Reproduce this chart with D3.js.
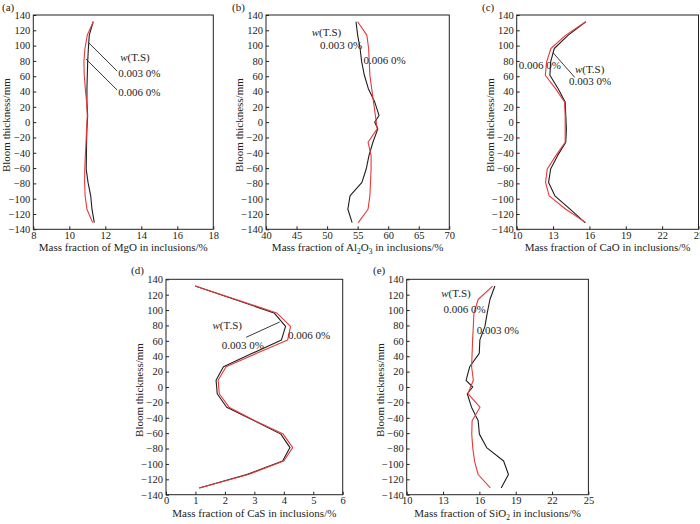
<!DOCTYPE html>
<html>
<head>
<meta charset="utf-8">
<script src="https://cdn.jsdelivr.net/npm/d3@7"></script>
<style>
  body { margin: 0; background: #fff; }
  text { font-family: "Liberation Serif", "Times New Roman", serif; fill: #222; }
</style>
</head>
<body>
<div id="d3-container"></div>
<script>
const width = 700,
  height = 524;

/* DATA */
// sampling positions across the bloom (mm)
const thickness = [131.25, 113.75, 96.25, 78.75, 61.25, 43.75, 26.25, 8.75,
  -8.75, -26.25, -43.75, -61.25, -78.75, -96.25, -113.75, -131.25];
// same positions with an extra sample at the centre line
const thicknessMid = [131.25, 113.75, 96.25, 78.75, 61.25, 43.75, 26.25, 8.75, 0,
  -8.75, -26.25, -43.75, -61.25, -78.75, -96.25, -113.75, -131.25];

const yTicks = [-140, -120, -100, -80, -60, -40, -20, 0, 20, 40, 60, 80, 100, 120, 140];

// MgO (%)
const mgo003 = [11.33, 11.11, 11.06, 11.02, 11.0, 10.98, 10.98, 11.02, 10.98, 10.96, 10.95, 10.94, 11.04, 11.19, 11.26, 11.39];
const mgo006 = [11.33, 11.0, 10.87, 10.81, 10.83, 10.89, 10.96, 11.0, 10.96, 10.93, 10.89, 10.86, 10.85, 10.88, 10.98, 11.3];
const mgoTicks = [8, 10, 12, 14, 16, 18];

// Al2O3 (%)
const al003 = [54.73, 55.0, 55.4, 55.66, 56.1, 56.75, 57.8, 58.5, 57.8, 58.3, 57.5, 56.85, 56.4, 55.7, 53.75, 53.4, 54.1];
const al006 = [55.0, 56.5, 56.8, 56.9, 57.0, 57.3, 57.6, 57.9, 58.2, 56.7, 57.2, 57.2, 57.1, 57.0, 56.7, 55.1];
const alTicks = [40, 45, 50, 55, 60, 65, 70];

// CaO (%)
const cao003 = [15.7, 14.25, 13.1, 12.8, 12.74, 13.42, 14.0, 14.05, 14.1, 14.05, 13.37, 12.8, 12.63, 13.15, 14.4, 15.64];
const cao006 = [15.7, 14.05, 12.82, 12.47, 12.36, 13.2, 13.95, 14.0, 14.0, 14.0, 13.23, 12.52, 12.38, 12.68, 14.05, 15.7];
const caoTicks = [10, 13, 16, 19, 22, 25];

// CaS (%)
const cas003 = [0.99, 2.34, 3.67, 4.06, 3.92, 2.93, 1.95, 1.7, 1.74, 2.06, 3.0, 3.9, 4.21, 3.96, 2.74, 1.13];
const cas006 = [0.99, 2.38, 3.76, 4.23, 4.13, 3.08, 2.04, 1.77, 1.81, 2.14, 3.02, 3.98, 4.3, 4.0, 2.8, 1.13];
const casTicks = [0, 1, 2, 3, 4, 5, 6];

// SiO2 (%)
const sio003 = [17.28, 16.87, 16.65, 16.46, 16.04, 15.99, 15.2, 14.9, 15.45, 15.0, 15.35, 15.9, 16.0, 16.6, 18.0, 18.4, 17.8];
const sio006 = [17.09, 15.9, 15.55, 15.5, 15.44, 15.4, 15.36, 15.5, 15.05, 16.05, 15.4, 15.37, 15.45, 15.6, 15.9, 16.9];
const sioTicks = [10, 13, 16, 19, 22, 25];

const BLACK = "#1e1e1e",
  RED = "#e8383a";

/* PANEL LAYOUT */
const panels = [
  {
    tag: "(a)", tagPos: [2, 11],
    box: { left: 33.3, right: 213.3, top: 15, bottom: 229.3 },
    xDomain: [8, 18], xTicks: mgoTicks,
    title: [["Mass fraction of MgO in inclusions/%"]],
    series: [{ x: mgo003, y: thickness, color: BLACK }, { x: mgo006, y: thickness, color: RED }],
    leaders: [[11.09, 103.4, 12.66, 66.7], [10.93, 82.4, 12.66, 41.9]],
    notes: [
      { w: true, x: 13.65, y: 85, anchor: "middle" },
      { text: "0.003 0%", x: 12.72, y: 64, anchor: "start" },
      { text: "0.006 0%", x: 12.72, y: 39, anchor: "start" }
    ]
  },
  {
    tag: "(b)", tagPos: [232, 11],
    box: { left: 266, right: 449.3, top: 15, bottom: 229.3 },
    xDomain: [40, 70], xTicks: alTicks,
    title: [["Mass fraction of Al"], ["2", true], ["O"], ["3", true], [" in inclusions/%"]],
    series: [{ x: al003, y: thicknessMid, color: BLACK }, { x: al006, y: thickness, color: RED }],
    leaders: [],
    notes: [
      { w: true, x: 49.9, y: 118.2, anchor: "middle" },
      { text: "0.003 0%", x: 52.3, y: 100.7, anchor: "middle" },
      { text: "0.006 0%", x: 59.4, y: 81.1, anchor: "middle" }
    ]
  },
  {
    tag: "(c)", tagPos: [482, 11],
    box: { left: 516.7, right: 698.5, top: 15, bottom: 229.3 },
    xDomain: [10, 25], xTicks: caoTicks,
    title: [["Mass fraction of CaO in inclusions/%"]],
    series: [{ x: cao003, y: thickness, color: BLACK }, { x: cao006, y: thickness, color: RED }],
    leaders: [[13.0, 90.7, 14.79, 58.5]],
    notes: [
      { text: "0.006 0%", x: 10.16, y: 74.6, anchor: "start" },
      { w: true, x: 16.02, y: 69.4, anchor: "middle" },
      { text: "0.003 0%", x: 14.32, y: 53.7, anchor: "start" }
    ]
  },
  {
    tag: "(d)", tagPos: [131, 274],
    box: { left: 166, right: 342.7, top: 279.3, bottom: 494.7 },
    xDomain: [0, 6], xTicks: casTicks,
    title: [["Mass fraction of CaS in inclusions/%"]],
    series: [{ x: cas003, y: thickness, color: BLACK }, { x: cas006, y: thickness, color: RED }],
    leaders: [[2.72, 64.6, 3.86, 84.5]],
    notes: [
      { w: true, x: 2.08, y: 80.6, anchor: "middle" },
      { text: "0.003 0%", x: 2.61, y: 54.8, anchor: "middle" },
      { text: "0.006 0%", x: 4.86, y: 67.2, anchor: "middle" }
    ]
  },
  {
    tag: "(e)", tagPos: [373, 274],
    box: { left: 406.7, right: 588.4, top: 279.3, bottom: 494.7 },
    xDomain: [10, 25], xTicks: sioTicks,
    title: [["Mass fraction of SiO"], ["2", true], [" in inclusions/%"]],
    series: [{ x: sio003, y: thicknessMid, color: BLACK }, { x: sio006, y: thickness, color: RED }],
    leaders: [],
    notes: [
      { w: true, x: 14.07, y: 121.8, anchor: "middle" },
      { text: "0.006 0%", x: 14.77, y: 101.4, anchor: "middle" },
      { text: "0.003 0%", x: 17.52, y: 74.1, anchor: "middle" }
    ]
  }
];

/* SVG */
const svg = d3
  .select("#d3-container")
  .append("svg")
  .attr("width", width)
  .attr("height", height)
  .style("display", "block");

svg.append("rect").attr("width", width).attr("height", height).attr("fill", "#fff");

panels.forEach(drawPanel);

/* DRAW ONE PANEL */
function drawPanel(p) {
  const b = p.box;
  const xScale = d3.scaleLinear().domain(p.xDomain).range([b.left, b.right]);
  const yScale = d3.scaleLinear().domain([-140, 140]).range([b.bottom, b.top]);

  const g = svg.append("g").attr("class", "panel");

  // panel tag
  g.append("text")
    .attr("x", p.tagPos[0])
    .attr("y", p.tagPos[1])
    .attr("font-size", 11)
    .text(p.tag);

  // y axis, ticks pointing inwards
  const yAxis = g
    .append("g")
    .attr("class", "axis y-axis")
    .attr("transform", `translate(${b.left},0)`)
    .call(d3.axisLeft(yScale).tickValues(yTicks).tickSize(-3).tickPadding(3).tickFormat(d3.format("d")));

  // x axis
  const xAxis = g
    .append("g")
    .attr("class", "axis x-axis")
    .attr("transform", `translate(0,${b.bottom})`)
    .call(d3.axisBottom(xScale).tickValues(p.xTicks).tickSize(-3).tickPadding(2).tickFormat(d3.format("d")));

  [yAxis, xAxis].forEach(ax => {
    ax.select(".domain").remove();
    ax.selectAll("line").attr("stroke", "#222");
    ax.selectAll("text")
      .attr("font-size", 10.5)
      .attr("font-family", '"Liberation Serif", "Times New Roman", serif')
      .attr("fill", "#222");
  });

  // frame
  g.append("rect")
    .attr("x", b.left)
    .attr("y", b.top)
    .attr("width", b.right - b.left)
    .attr("height", b.bottom - b.top)
    .attr("fill", "none")
    .attr("stroke", "#222")
    .attr("stroke-width", 1);

  // y title
  const midY = (b.top + b.bottom) / 2;
  g.append("text")
    .attr("transform", `translate(${b.left - 27},${midY + 3}) rotate(-90)`)
    .attr("text-anchor", "middle")
    .attr("dy", "0.35em")
    .attr("font-size", 11)
    .text("Bloom thickness/mm");

  // x title, with subscripts where needed
  const xt = g
    .append("text")
    .attr("x", (b.left + b.right) / 2)
    .attr("y", b.bottom + 22)
    .attr("text-anchor", "middle")
    .attr("font-size", 11);
  let shifted = false;
  p.title.forEach(([txt, sub]) => {
    const t = xt.append("tspan").text(txt);
    if (sub) {
      t.attr("font-size", 7.5).attr("dy", 3);
      shifted = true;
    } else if (shifted) {
      t.attr("dy", -3);
      shifted = false;
    }
  });

  // profile lines
  const line = d3
    .line()
    .x(d => xScale(d[0]))
    .y(d => yScale(d[1]));

  g.selectAll(".profile")
    .data(p.series)
    .join("path")
    .attr("class", "profile")
    .attr("d", s => line(d3.zip(s.x, s.y)))
    .attr("fill", "none")
    .attr("stroke", s => s.color)
    .attr("stroke-width", 1.1)
    .attr("stroke-linejoin", "round");

  // leader lines for the labels
  g.selectAll(".leader")
    .data(p.leaders)
    .join("line")
    .attr("class", "leader")
    .attr("x1", d => xScale(d[0]))
    .attr("y1", d => yScale(d[1]))
    .attr("x2", d => xScale(d[2]))
    .attr("y2", d => yScale(d[3]))
    .attr("stroke", "#222")
    .attr("stroke-width", 0.9);

  // labels
  p.notes.forEach(n => {
    const t = g
      .append("text")
      .attr("x", xScale(n.x))
      .attr("y", yScale(n.y))
      .attr("dy", "0.35em")
      .attr("text-anchor", n.anchor)
      .attr("font-size", 11);
    if (n.w) {
      t.append("tspan").attr("font-style", "italic").text("w");
      t.append("tspan").text("(T.S)");
    } else {
      t.text(n.text);
    }
  });
}
</script>
</body>
</html>
